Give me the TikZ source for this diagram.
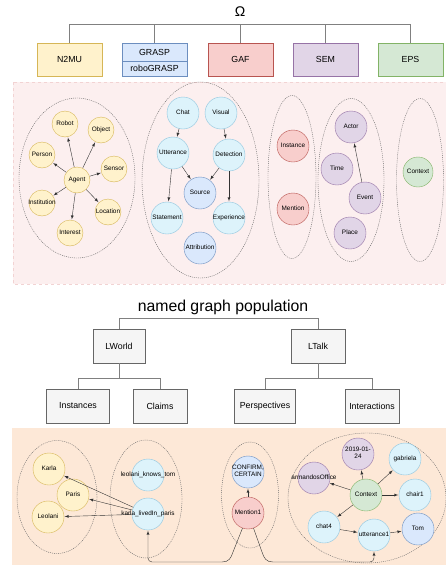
\documentclass[tikz,border=0pt]{standalone}
\usepackage{fontspec}
\setmainfont{Liberation Sans}
\usepackage{tikz}
\usetikzlibrary{shapes.geometric}

\definecolor{yellowfill}{HTML}{FFF2CC}
\definecolor{yellowline}{HTML}{D6B656}
\definecolor{bluefill}{HTML}{DAE8FC}
\definecolor{blueline}{HTML}{6C8EBF}
\definecolor{redfill}{HTML}{F8CECC}
\definecolor{redline}{HTML}{B85450}
\definecolor{purplefill}{HTML}{E1D5E7}
\definecolor{purpleline}{HTML}{9673A6}
\definecolor{greenfill}{HTML}{D5E8D4}
\definecolor{greenline}{HTML}{82B366}
\definecolor{cyanfill}{HTML}{DDF3FB}
\definecolor{cyanline}{HTML}{8EC5DE}
\definecolor{grayfill}{HTML}{F5F5F5}
\definecolor{grayline}{HTML}{666666}
\definecolor{pinkbg}{HTML}{FCEFEF}
\definecolor{pinkedge}{HTML}{F2D3D3}
\definecolor{peachbg}{HTML}{FDE8D7}

% text that may stick out of its circle
\newcommand{\cl}[1]{\makebox[0pt]{\begin{tabular}{@{}c@{}}#1\end{tabular}}}

\tikzstyle{concept} = [circle, draw, inner sep=0pt, minimum size=32pt, font=\fontsize{6.4}{7}\selectfont]
\tikzstyle{small} = [concept, minimum size=26pt]
\tikzstyle{yel} = [fill=yellowfill, draw=yellowline]
\tikzstyle{blu} = [fill=bluefill, draw=blueline]
\tikzstyle{rd} = [fill=redfill, draw=redline]
\tikzstyle{pur} = [fill=purplefill, draw=purpleline]
\tikzstyle{grn} = [fill=greenfill, draw=greenline]
\tikzstyle{cya} = [fill=cyanfill, draw=cyanline]
\tikzstyle{group} = [ellipse, draw=black!60, dash pattern=on 1pt off 1pt, inner sep=0pt]
\tikzstyle{block} = [rectangle, draw, text centered, minimum width=65pt, minimum height=33pt, font=\fontsize{8.8}{10}\selectfont]
\tikzstyle{graybox} = [block, fill=grayfill, draw=grayline, minimum height=34pt]
\tikzstyle{line} = [draw, ->, >=latex, black!80, shorten >=0.5pt]
\tikzstyle{tree} = [draw, gray]

\begin{document}
\begin{tikzpicture}[x=1pt, y=-1pt]
    \useasboundingbox (0,0) rectangle (446,565);

    % upper part: the layers
    \node [font=\fontsize{14}{16}\selectfont] (omega) at (240,12) {Ω};
    \node [block, yel] (n2mu) at (69.5,59.5) {N2MU};
    \node [block, blu, minimum height=18pt] (grasp) at (154.5,52) {GRASP};
    \node [block, blu, minimum height=15pt] (robograsp) at (154.5,68.5) {roboGRASP};
    \node [block, rd] (gaf) at (240.5,59.5) {GAF};
    \node [block, pur] (sem) at (325.5,59.5) {SEM};
    \node [block, grn] (eps) at (410.5,59.5) {EPS};
    \draw [tree] (n2mu.north) -- ++(0,-19) -| (eps.north);
    \foreach \n in {grasp,gaf,sem}
        \draw [tree] (\n.north) -- ++(0,-19);

    \draw [fill=pinkbg, draw=pinkedge, dashed] (13,82) rectangle (446,284);

    \node [group, minimum width=116pt, minimum height=160pt] (agentgroup) at (77,178) {};
    \node [group, minimum width=117pt, minimum height=196pt] (signalgroup) at (200.5,180) {};
    \node [group, minimum width=48pt, minimum height=163pt] (gafgroup) at (292,177) {};
    \node [group, minimum width=66pt, minimum height=163pt] (semgroup) at (351,180) {};
    \node [group, minimum width=47pt, minimum height=163pt] (epsgroup) at (420,180) {};

    \node [small, yel] (agent) at (77,180) {\cl{Agent}};
    \node [small, yel] (robot) at (65,124) {\cl{Robot}};
    \node [small, yel] (object) at (101,130) {\cl{Object}};
    \node [small, yel] (person) at (42,155) {\cl{Person}};
    \node [small, yel] (sensor) at (114,169) {\cl{Sensor}};
    \node [small, yel] (institution) at (42,203) {\cl{Institution}};
    \node [small, yel] (location) at (108,212) {\cl{Location}};
    \node [small, yel] (interest) at (70,233) {\cl{Interest}};
    \foreach \n in {robot,object,person,sensor,institution,location,interest}
        \path [line] (agent) -- (\n);

    \node [concept, cya] (chat) at (183,113) {\cl{Chat}};
    \node [concept, cya] (visual) at (221,113) {\cl{Visual}};
    \node [concept, cya] (utterance) at (173,153) {\cl{Utterance}};
    \node [concept, cya] (detection) at (229,155) {\cl{Detection}};
    \node [concept, blu] (source) at (200,193) {\cl{Source}};
    \node [concept, cya] (statement) at (167,218) {\cl{Statement}};
    \node [concept, cya] (experience) at (229,218) {\cl{Experience}};
    \node [concept, blu] (attribution) at (200,248) {\cl{Attribution}};
    \path [line] (chat) -- (utterance);
    \path [line] (visual) -- (detection);
    \path [line] (utterance) -- (source);
    \path [line] (utterance) -- (statement);
    \path [line] (detection) -- (source);
    \path [line] (detection) -- (experience);

    \node [concept, rd] (instance) at (293,146) {\cl{Instance}};
    \node [concept, rd] (mention) at (293,209) {\cl{Mention}};

    \node [concept, pur] (actor) at (351,127) {\cl{Actor}};
    \node [concept, pur] (time) at (337,169) {\cl{Time}};
    \node [concept, pur] (event) at (365,198) {\cl{Event}};
    \node [concept, pur] (place) at (350,233) {\cl{Place}};
    \path [line] (event) -- (actor);

    \node [concept, grn, minimum size=30pt] (context) at (418,172) {\cl{Context}};

    % lower part: named graphs
    \node [font=\fontsize{15.8}{18}\selectfont] (population) at (223,307) {named graph population};
    \node [graybox, minimum width=52pt] (lworld) at (119,346) {LWorld};
    \node [graybox, minimum width=54pt] (ltalk) at (318,346) {LTalk};
    \node [graybox, minimum width=63pt] (instances) at (78,406) {Instances};
    \node [graybox, minimum width=54pt] (claims) at (160,406) {Claims};
    \node [graybox, minimum width=61pt] (perspectives) at (265,406) {Perspectives};
    \node [graybox, minimum width=54pt] (interactions) at (372,406) {Interactions};
    \draw [tree] (lworld.north) -- ++(0,-11) -| (ltalk.north);
    \draw [tree] (instances.north) -- ++(0,-11) -| (claims.north);
    \draw [tree] (perspectives.north) -- ++(0,-11) -| (interactions.north);
    \draw [tree] (lworld.south) -- ++(0,15);
    \draw [tree] (ltalk.south) -- ++(0,15);

    \fill [peachbg] (12,428) rectangle (446,565);

    \node [group, minimum width=80pt, minimum height=113pt] (worldgroup) at (57,497) {};
    \node [group, minimum width=72pt, minimum height=118pt] (claimgroup) at (146,499) {};
    \node [group, minimum width=57pt, minimum height=106pt] (perspgroup) at (250,495) {};
    \node [group, minimum width=158pt, minimum height=130pt] (talkgroup) at (367,498) {};

    \node [concept, yel] (karla) at (49,469) {\cl{Karla}};
    \node [concept, yel] (paris) at (73,495) {\cl{Paris}};
    \node [concept, yel] (leolani) at (48,517) {\cl{Leolani}};
    \node [concept, cya] (knows) at (148,475) {\cl{leolani\_knows\_tom}};
    \node [concept, cya] (livedin) at (148,514) {\cl{karla\_livedIn\_paris}};
    \path [line] (livedin) -- (karla);
    \path [line] (livedin) -- (paris);
    \path [line] (livedin) -- (leolani);

    \node [concept, blu] (certain) at (248,472) {\cl{CONFIRM,\\CERTAIN}};
    \node [concept, rd] (mention1) at (248,513) {\cl{Mention1}};
    \path [line] (mention1) -- (certain);

    \node [concept, grn] (context1) at (366,495) {\cl{Context}};
    \node [concept, pur] (date) at (358,454) {\cl{2019-01-\\24}};
    \node [concept, cya] (gabriela) at (405,459) {\cl{gabriela}};
    \node [concept, pur] (office) at (314,478) {\cl{armandosOffice}};
    \node [concept, cya] (chair1) at (415,495) {\cl{chair1}};
    \node [concept, cya] (chat4) at (324,527) {\cl{chat4}};
    \node [concept, cya] (utterance1) at (374,535) {\cl{utterance1}};
    \node [concept, blu] (tom) at (418,529) {\cl{Tom}};
    \foreach \n in {date,gabriela,office,chair1,chat4}
        \path [line] (context1) -- (\n);
    \path [line] (chat4) -- (utterance1);
    \path [line] (utterance1) -- (tom);

    \path [line] (mention1.250) -- (233,552) .. controls (231,558) and (229,562) .. (222,562)
        [rounded corners=4pt] -| (livedin.south);
    \path [line] (mention1.290) -- (262,552) .. controls (264,558) and (266,562) .. (273,562)
        [rounded corners=4pt] -| (utterance1.south);
\end{tikzpicture}
\end{document}
